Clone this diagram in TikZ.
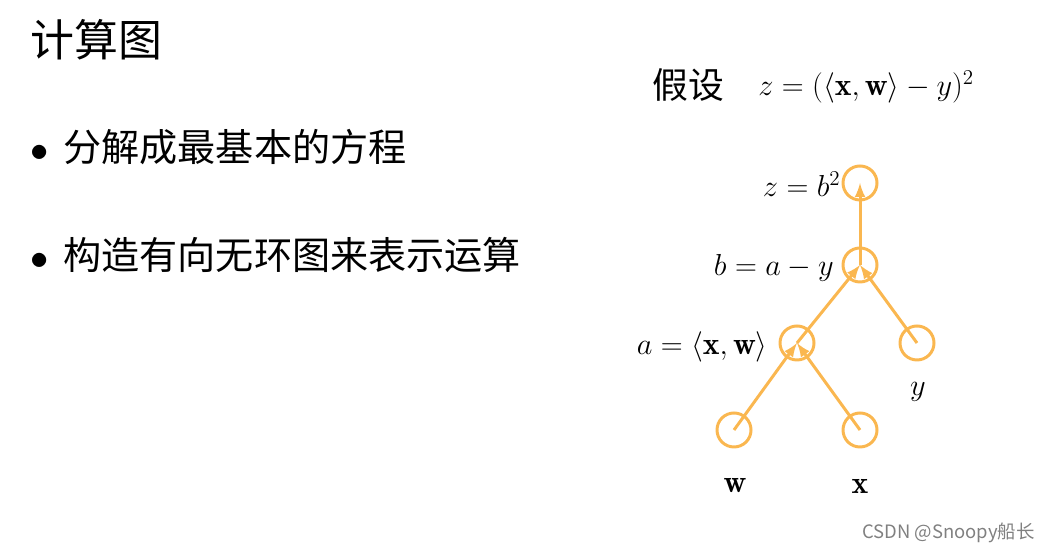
\documentclass[tikz,border=0pt]{standalone}
\usepackage{fontspec}
\usepackage{amsmath}
\newfontfamily\cjk{Noto Sans CJK SC}
\definecolor{nodeorange}{RGB}{250,183,80}
\tikzset{
  op/.style={draw=nodeorange, line width=1.7pt, circle, minimum size=0.68cm, inner sep=0pt},
  flow/.style={draw=nodeorange, line width=1.7pt, ->},
  lbl/.style={inner sep=0pt, font=\fontsize{18}{22}\selectfont},
  txt/.style={inner sep=0pt, anchor=west, font=\cjk\fontsize{21.7}{26}\selectfont},
}
\begin{document}
\begin{tikzpicture}[>=latex]
\useasboundingbox (0,0) rectangle (20.98,-11.04);
\node(Title)[txt, font=\cjk\fontsize{25}{30}\selectfont] at (0.6,-0.8) {计算图};
\node(Pt1)[txt] at (0.6,-2.94) {\makebox[0.66cm][l]{$\bullet$}分解成最基本的方程};
\node(Pt2)[txt] at (0.6,-5.1) {\makebox[0.66cm][l]{$\bullet$}构造有向无环图来表示运算};

\node(Assume)[txt, font=\cjk\fontsize{20.4}{24}\selectfont] at (13.04,-1.7) {假设};
\node(Loss)[lbl, anchor=west] at (15.16,-1.74) {$z=(\langle\mathbf{x},\mathbf{w}\rangle-y)^2$};

\node(Z)[op] at (17.2,-3.66) {};
\node(B)[op] at (17.2,-5.3) {};
\node(A)[op] at (15.94,-6.86) {};
\node(Y)[op] at (18.34,-6.86) {};
\node(W)[op] at (14.68,-8.6) {};
\node(X)[op] at (17.2,-8.6) {};

\node(Zlbl)[lbl, anchor=east] at (16.82,-3.68) {$z=b^2$};
\node(Blbl)[lbl, anchor=east] at (16.68,-5.36) {$b=a-y$};
\node(Albl)[lbl, anchor=east] at (15.36,-6.94) {$a=\langle\mathbf{x},\mathbf{w}\rangle$};
\node(Ylbl)[lbl] at (18.36,-7.84) {$y$};
\node(Wlbl)[lbl] at (14.7,-9.72) {$\mathbf{w}$};
\node(Xlbl)[lbl] at (17.2,-9.72) {$\mathbf{x}$};

\draw (W.center) edge[flow] (A.center);
\draw (X.center) edge[flow] (A.center);
\draw (A.center) edge[flow] (B.center);
\draw (Y.center) edge[flow] (B.center);
\draw (B.center) edge[flow] (Z.center);

\node(Mark)[inner sep=0pt, anchor=east, text=gray, font=\cjk\fontsize{10.5}{12}\selectfont] at (20.7,-10.66) {CSDN @Snoopy船长};
\end{tikzpicture}
\end{document}
